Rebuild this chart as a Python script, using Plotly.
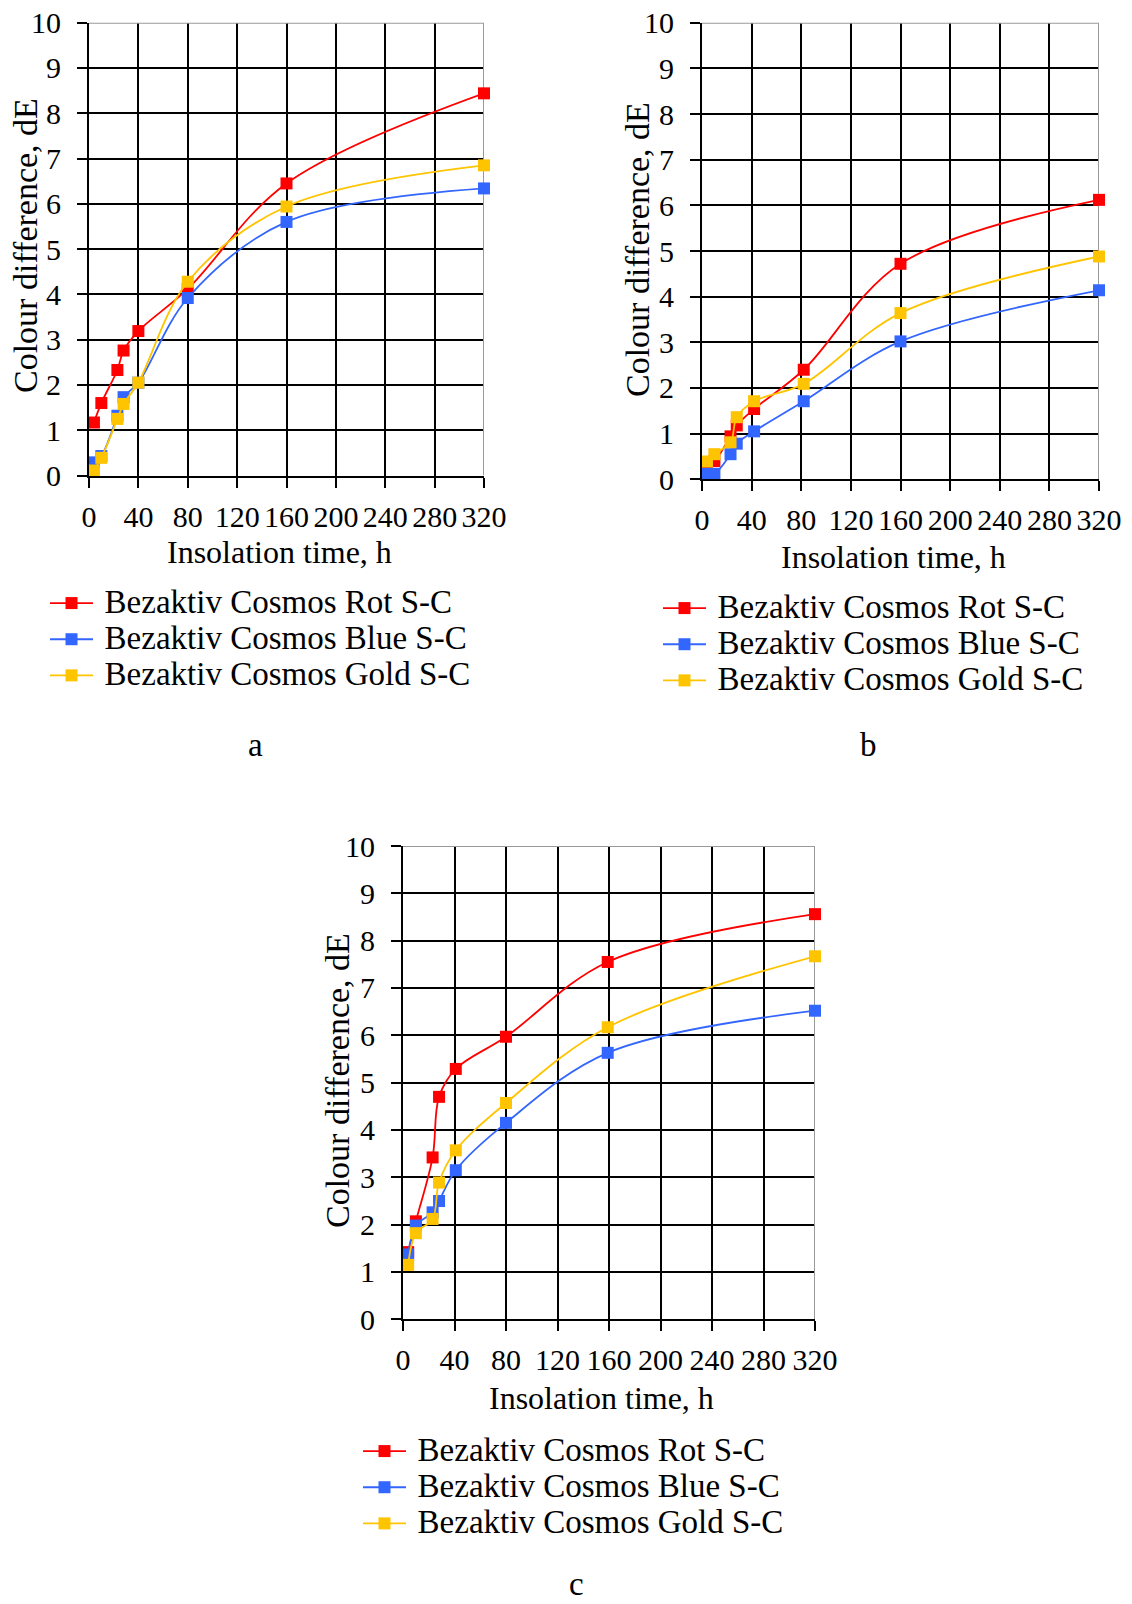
import plotly.graph_objects as go

FONT = "Liberation Serif"
W, H = 1132, 1604

# ---------------- data ----------------
series_names = ["Bezaktiv Cosmos Rot S-C", "Bezaktiv Cosmos Blue S-C", "Bezaktiv Cosmos Gold S-C"]
series_colors = ["#FF0000", "#3366FF", "#FFC400"]

x_ticks = [0, 40, 80, 120, 160, 200, 240, 280, 320]
y_ticks = [0, 1, 2, 3, 4, 5, 6, 7, 8, 9, 10]

# panel a
x_a = [4, 10, 23, 28, 40, 80, 160, 320]
rot_a = [1.17, 1.60, 2.33, 2.76, 3.19, 4.12, 6.45, 8.44]
blue_a = [0.29, 0.43, 1.32, 1.73, 2.05, 3.92, 5.60, 6.34]
gold_a = [0.11, 0.39, 1.25, 1.58, 2.05, 4.28, 5.94, 6.85]

# panel b
x_b = [4, 10, 23, 28, 42, 82, 160, 320]
rot_b = [0.30, 0.40, 0.94, 1.18, 1.54, 2.40, 4.72, 6.12]
blue_b = [0.12, 0.12, 0.55, 0.78, 1.05, 1.71, 3.02, 4.14]
gold_b = [0.39, 0.55, 0.81, 1.36, 1.71, 2.09, 3.64, 4.88]

# panel c
x_c = [4, 10, 23, 28, 41, 80, 159, 320]
rot_c = [1.42, 2.07, 3.42, 4.70, 5.29, 5.97, 7.55, 8.56]
blue_c = [1.37, 1.98, 2.26, 2.50, 3.15, 4.15, 5.63, 6.52]
gold_c = [1.15, 1.82, 2.12, 2.89, 3.57, 4.57, 6.17, 7.67]

x_title = "Insolation time, h"
y_title = "Colour difference, dE"
panel_letters = ["a", "b", "c"]

# ---------------- layout geometry (pixels) ----------------
# plot areas: (left, right, top, bottom)
areas = [(89, 484, 22.7, 475.5), (702, 1099, 22.7, 479.3), (403, 815, 846, 1319.3)]
xtitle_pos = [(279, 552), (893, 557), (601, 1398)]
ytitle_pos = [(26, 246), (637, 250), (337, 1081)]
letter_pos = [(255, 745), (868, 745), (576, 1589)]
legend_pos = [(45, 580), (658, 585), (358, 1428)]

def px(x):
    return x / W

def py(y):
    return 1 - y / H

fig = go.Figure()

panels = [
    (x_a, [rot_a, blue_a, gold_a]),
    (x_b, [rot_b, blue_b, gold_b]),
    (x_c, [rot_c, blue_c, gold_c]),
]

for i, (xs, ys_list) in enumerate(panels):
    sfx = "" if i == 0 else str(i + 1)
    for name, color, ys in zip(series_names, series_colors, ys_list):
        fig.add_trace(go.Scatter(
            x=xs, y=ys, name='<span style="font-size:33px">\u2009' + name + '</span>',
            mode="lines+markers",
            line=dict(color=color, width=1.8, shape="spline", smoothing=1.0),
            marker=dict(symbol="square", size=12, color=color),
            xaxis="x" + sfx, yaxis="y" + sfx,
            legend="legend" + sfx,
            cliponaxis=False,
            showlegend=True,
        ))

axis_common = dict(
    showline=True, linecolor="black", linewidth=2,
    ticks="outside", ticklen=10, tickwidth=2, tickcolor="black",
    showgrid=True, gridcolor="black", gridwidth=2,
    zeroline=False, fixedrange=True, automargin=False,
    tickfont=dict(family=FONT, size=30, color="black"),
)

layout = dict(
    template="none",
    width=W, height=H,
    margin=dict(l=0, r=0, t=0, b=0, pad=0, autoexpand=False),
    paper_bgcolor="white", plot_bgcolor="white",
    font=dict(family=FONT, color="black"),
    showlegend=True,
)

annotations = []
shapes = []
for i, (l, r, t, b) in enumerate(areas):
    sfx = "" if i == 0 else str(i + 1)
    layout["xaxis" + sfx] = dict(
        axis_common, domain=[px(l), px(r)], range=[0, 320],
        tickmode="array", tickvals=x_ticks, ticktext=[str(v) for v in x_ticks],
        anchor="y" + sfx, ticklabelstandoff=3,
    )
    layout["yaxis" + sfx] = dict(
        axis_common, domain=[py(b), py(t)], range=[0, 10],
        tickmode="array", tickvals=y_ticks, ticktext=[str(v) for v in y_ticks],
        anchor="x" + sfx, ticklabelstandoff=10,
    )
    # light grey outer border on the top and right sides of the plot area
    shapes.append(dict(type="line", xref="x" + sfx, yref="y" + sfx,
                       x0=320, x1=320, y0=0, y1=10,
                       line=dict(color="#9a9a9a", width=2), layer="between"))
    shapes.append(dict(type="line", xref="x" + sfx, yref="y" + sfx,
                       x0=0, x1=320, y0=10, y1=10,
                       line=dict(color="#9a9a9a", width=2), layer="between"))
    lx, ly = legend_pos[i]
    layout["legend" + sfx] = dict(
        x=px(lx), y=py(ly), xanchor="left", yanchor="top",
        font=dict(family=FONT, size=25.5, color="black"),
        itemwidth=43, bgcolor="rgba(0,0,0,0)", borderwidth=0,
        tracegroupgap=0,
    )
    xt = xtitle_pos[i]
    annotations.append(dict(text=x_title, x=px(xt[0]), y=py(xt[1]), xref="paper", yref="paper",
                            showarrow=False, xanchor="center", yanchor="middle",
                            font=dict(family=FONT, size=32, color="black")))
    yt = ytitle_pos[i]
    annotations.append(dict(text=y_title, x=px(yt[0]), y=py(yt[1]), xref="paper", yref="paper",
                            showarrow=False, xanchor="center", yanchor="middle", textangle=-90,
                            font=dict(family=FONT, size=34, color="black")))
    lp = letter_pos[i]
    if i == 2:
        # bottom letter: keep its box inside the page
        annotations.append(dict(text=panel_letters[i], x=px(lp[0]), y=0, xref="paper", yref="paper",
                                showarrow=False, xanchor="center", yanchor="bottom",
                                font=dict(family=FONT, size=33, color="black")))
    else:
        annotations.append(dict(text=panel_letters[i], x=px(lp[0]), y=py(lp[1]), xref="paper", yref="paper",
                                showarrow=False, xanchor="center", yanchor="middle",
                                font=dict(family=FONT, size=33, color="black")))

layout["annotations"] = annotations
layout["shapes"] = shapes
fig.update_layout(**layout)

fig.write_html("out.html")
